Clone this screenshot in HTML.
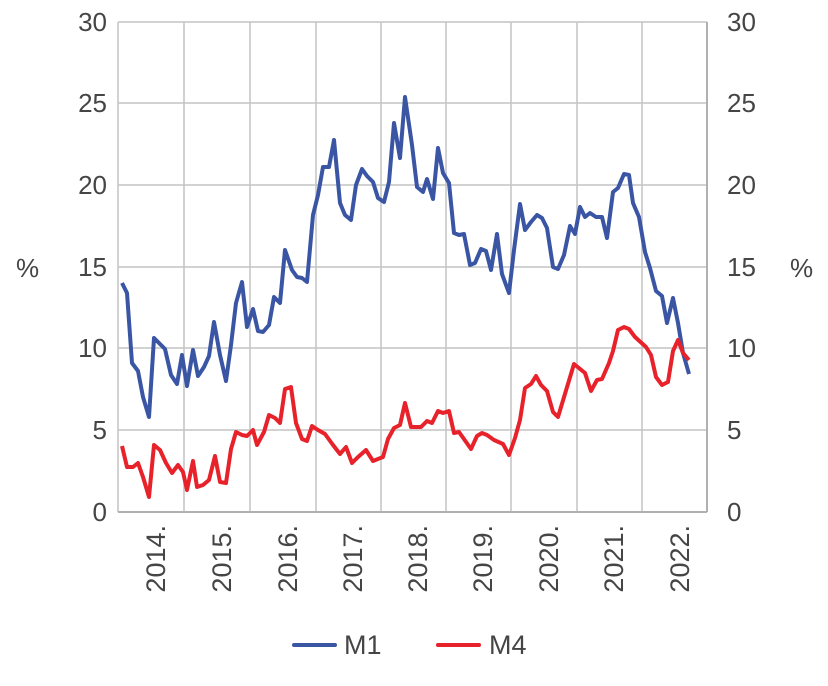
<!DOCTYPE html>
<html><head><meta charset="utf-8"><style>body{margin:0;background:#fff}svg{display:block}text{font-family:"Liberation Sans",sans-serif;fill:#454545}</style></head><body>
<svg width="828" height="686" xmlns="http://www.w3.org/2000/svg">
<g stroke="#c4c4c4" stroke-width="1.5" fill="none">
<line x1="118" y1="22" x2="707" y2="22"/><line x1="118" y1="103" x2="707" y2="103"/><line x1="118" y1="185" x2="707" y2="185"/><line x1="118" y1="267" x2="707" y2="267"/><line x1="118" y1="348" x2="707" y2="348"/><line x1="118" y1="430" x2="707" y2="430"/>
<line x1="184" y1="22" x2="184" y2="512"/><line x1="250" y1="22" x2="250" y2="512"/><line x1="316" y1="22" x2="316" y2="512"/><line x1="381" y1="22" x2="381" y2="512"/><line x1="446" y1="22" x2="446" y2="512"/><line x1="511" y1="22" x2="511" y2="512"/><line x1="577" y1="22" x2="577" y2="512"/><line x1="642" y1="22" x2="642" y2="512"/>
<line x1="118" y1="22" x2="118" y2="512"/><line x1="707" y1="22" x2="707" y2="512" stroke="#b0b0b0" stroke-width="2"/><line x1="118" y1="512" x2="707" y2="512" stroke="#b0b0b0" stroke-width="2"/>
</g>
<g font-size="26" text-anchor="end">
<text x="107" y="31">30</text><text x="107" y="112">25</text><text x="107" y="194">20</text><text x="107" y="276">15</text><text x="107" y="357">10</text><text x="107" y="439">5</text><text x="107" y="521">0</text>
</g>
<g font-size="26" text-anchor="start">
<text x="727" y="31">30</text><text x="727" y="112">25</text><text x="727" y="194">20</text><text x="727" y="276">15</text><text x="727" y="357">10</text><text x="727" y="439">5</text><text x="727" y="521">0</text>
</g>
<text x="16" y="277" font-size="26">%</text><text x="790" y="277" font-size="26">%</text>
<g font-size="27" text-anchor="end">
<text transform="translate(165,525) rotate(-90)">2014.</text>
<text transform="translate(231,525) rotate(-90)">2015.</text>
<text transform="translate(297,525) rotate(-90)">2016.</text>
<text transform="translate(362,525) rotate(-90)">2017.</text>
<text transform="translate(427,525) rotate(-90)">2018.</text>
<text transform="translate(492,525) rotate(-90)">2019.</text>
<text transform="translate(558,525) rotate(-90)">2020.</text>
<text transform="translate(623,525) rotate(-90)">2021.</text>
<text transform="translate(689,525) rotate(-90)">2022.</text>
</g>
<polyline fill="none" stroke="#3a55a4" stroke-width="4" stroke-linejoin="round" points="122,283 127,293 132,363 138,371 143,397 149,417 154,338 159,343 165,349 171,375 177,384 182,355 187,386 193,350 198,376 204,367 209,356 214,322 220,355 226,381 231,345 236,303 242,282 247,327 253,309 258,331 263,332 269,325 274,297 280,303 285,250 292,270 297,277 302,278 307,282 313,215 318,195 323,167 329,167 334,140 340,203 345,215 351,220 356,185 362,169 367,176 373,182 378,198 384,202 389,182 394,123 400,158 405,97 412,145 417,187 423,192 427,179 433,199 438,148 443,173 449,183 454,233 459,235 464,234 470,265 475,263 481,249 486,251 491,270 497,234 502,274 509,293 514,250 520,204 525,230 531,222 537,215 542,218 547,228 553,267 558,269 564,255 570,226 575,234 580,207 585,217 590,213 596,217 602,217 607,238 613,192 618,188 624,174 629,175 633,203 639,217 645,252 650,268 656,291 662,296 667,323 673,298 678,323 683,353 689,374"/>
<polyline fill="none" stroke="#e8222a" stroke-width="4" stroke-linejoin="round" points="122,446 127,467 133,467 138,463 143,477 149,497 154,445 160,450 166,463 172,473 178,465 183,472 187,490 193,461 197,487 203,485 209,480 215,456 220,482 226,483 231,449 236,432 242,435 247,436 253,430 257,445 264,432 269,415 275,418 280,423 285,389 291,387 296,423 302,439 307,441 312,426 318,430 325,434 333,445 340,454 346,447 352,463 358,457 366,450 373,461 383,457 388,439 394,428 400,425 405,403 411,427 421,427 427,421 432,423 438,411 443,413 449,411 454,433 459,432 471,449 477,436 482,433 487,435 494,440 503,444 509,455 515,438 520,420 525,388 531,384 536,376 541,385 547,391 553,412 558,417 574,364 585,373 591,391 597,380 602,379 609,363 613,351 618,330 624,327 629,329 635,337 646,347 651,355 656,377 662,385 668,382 673,351 678,340 683,353 689,360"/>
<line x1="294" y1="645" x2="335" y2="645" stroke="#3a55a4" stroke-width="4" stroke-linecap="round"/>
<text x="344" y="654" font-size="27">M1</text>
<line x1="438" y1="645" x2="479" y2="645" stroke="#e8222a" stroke-width="4" stroke-linecap="round"/>
<text x="489" y="654" font-size="27">M4</text>
</svg>
</body></html>
